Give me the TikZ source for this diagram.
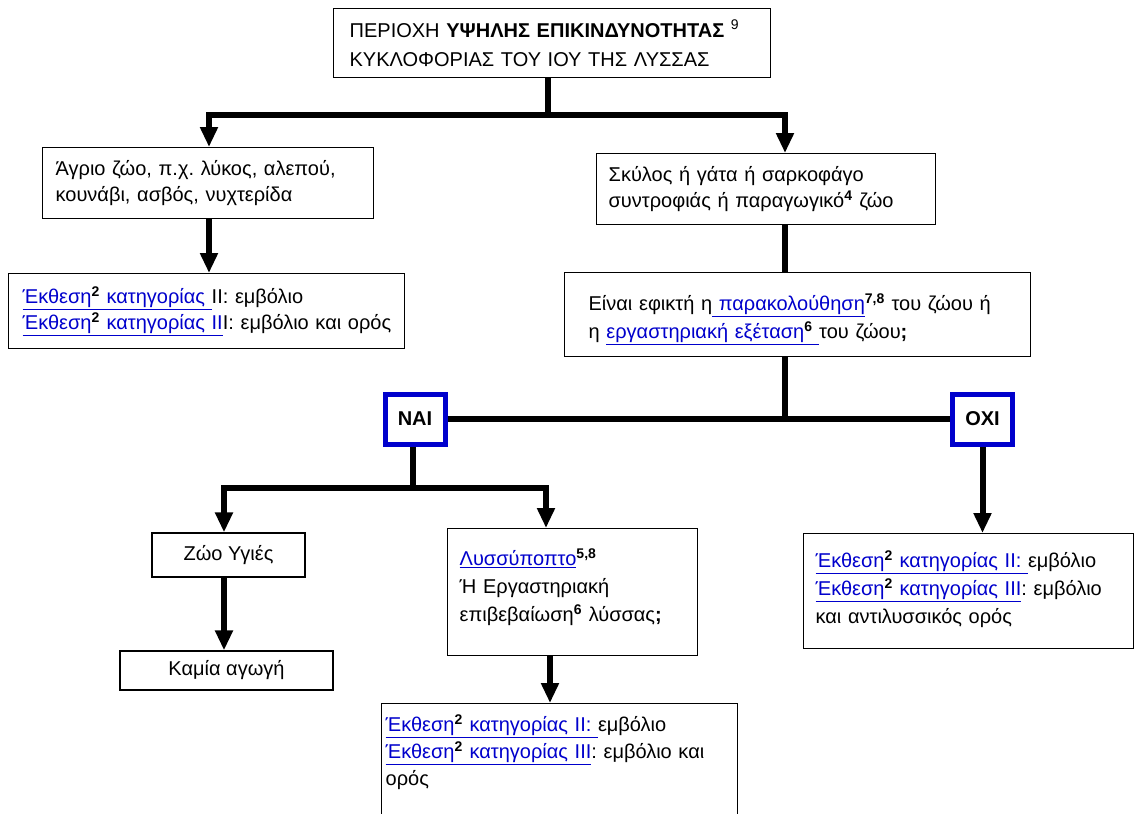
\documentclass[tikz,border=0pt]{standalone}
\usepackage{fontspec}
\setmainfont{Liberation Sans}
\usetikzlibrary{arrows.meta}
\definecolor{lblue}{RGB}{0,0,204}
\newcommand\lk[1]{\textcolor{lblue}{\underline{#1}}}
\newcommand\sps[1]{\textsuperscript{\textbf{\color{black}#1}}}
\frenchspacing
\begin{document}
\begin{tikzpicture}[x=1pt,y=-1pt,
  box/.style={draw, line width=1.3pt, align=left, anchor=north west, inner ysep=2pt,
    font=\fontsize{20}{26}\selectfont\frenchspacing},
  cbox/.style={draw, line width=1.3pt, align=center, inner sep=2pt,
    font=\fontsize{20}{26}\selectfont},
  yn/.style={draw=lblue, line width=5pt, inner sep=0pt, minimum width=60pt, minimum height=50pt,
    font=\fontsize{20}{24}\selectfont\bfseries},
  ln/.style={line width=6pt, line join=miter},
  arr/.style={ln, -{Triangle[width=17pt,length=20pt]}}]
\clip (0,0) rectangle (1136,814);
\fill[white] (0,0) rectangle (1136,814);

\node[box, font=\fontsize{20}{29}\selectfont, inner xsep=16pt, text width=405pt, minimum height=69pt] (top) at (333,8)
  {ΠΕΡΙΟΧΗ \textbf{ΥΨΗΛΗΣ ΕΠΙΚΙΝΔΥΝΟΤΗΤΑΣ} \textsuperscript{9}\\ΚΥΚΛΟΦΟΡΙΑΣ ΤΟΥ ΙΟΥ ΤΗΣ ΛΥΣΣΑΣ};

\node[box, inner xsep=13pt, text width=305pt, minimum height=71pt] (left1) at (42,147)
  {Άγριο ζώο, π.χ. λύκος, αλεπού,\\κουνάβι, ασβός, νυχτερίδα};

\node[box, inner xsep=14pt, text width=368pt, minimum height=75pt] (left2) at (8,273)
  {\mbox{\lk{Έκθεση\sps{2} κατηγορίας\ }II: εμβόλιο}\\\mbox{\lk{Έκθεση\sps{2} κατηγορίας II}I: εμβόλιο και ορός}};

\node[box, inner xsep=12pt, text width=315pt, minimum height=71pt] (right1) at (596,153)
  {Σκύλος ή γάτα ή σαρκοφάγο\\συντροφιάς ή παραγωγικό\sps{4} ζώο};

\node[box, font=\fontsize{20}{28}\selectfont, inner xsep=24pt, text width=418pt, minimum height=84pt] (right2) at (564,272)
  {\rule{0pt}{26pt}Είναι εφικτή η\lk{\ παρακολούθηση}\sps{7,8} του ζώου ή\\η \lk{εργαστηριακή εξέταση\sps{6}\ }του ζώου\textbf{;}};

\node[yn] (nai) at (415,419) {ΝΑΙ};
\node[yn] (oxi) at (982.5,419) {ΟΧΙ};

\node[cbox, minimum width=153pt, minimum height=44pt] (zoo) at (228.5,555) {Ζώο Υγιές};
\node[cbox, minimum width=213pt, minimum height=39pt] (kamia) at (226.5,670.5) {Καμία αγωγή};

\node[box, font=\fontsize{20}{28}\selectfont, inner xsep=12pt, text width=226pt, minimum height=127pt] (mid) at (447,528)
  {\lk{Λυσσύποπτο}\sps{5,8}\\Ή Εργαστηριακή\\επιβεβαίωση\sps{6} λύσσας\textbf{;}\rule[-14pt]{0pt}{0pt}};

\node[box, font=\fontsize{20}{27}\selectfont, inner xsep=4pt, inner ysep=11pt, text width=348pt] (bot) at (381,703)
  {\lk{Έκθεση\sps{2} κατηγορίας II:\ }εμβόλιο\\\lk{Έκθεση\sps{2} κατηγορίας III}: εμβόλιο και\\ορός\rule[-60pt]{0pt}{0pt}};

\node[box, font=\fontsize{20}{28}\selectfont, inner xsep=12pt, text width=306pt, minimum height=115pt] (res) at (803,533)
  {\lk{Έκθεση\sps{2} κατηγορίας II:\ }εμβόλιο\\\lk{Έκθεση\sps{2} κατηγορίας III}: εμβόλιο\\και αντιλυσσικός ορός\rule[-8pt]{0pt}{0pt}};

% connectors
\coordinate (t0) at (548,115);
\coordinate (hl) at (209,115);
\coordinate (hr) at (785,115);
\draw[ln] (top.south -| t0) -- (t0);
\draw[arr] (t0) -| (left1.north -| hl);
\draw[arr] (t0) -| (right1.north -| hr);
\draw[arr] (left1.south -| hl) -- (left2.north -| hl);
\draw[ln] (right1.south -| hr) -- (right2.north -| hr);
\draw[ln] (right2.south -| hr) -- (hr |- nai.east);
\draw[ln] (nai.east) -- (oxi.west);
\coordinate (y2) at (413,488);
\coordinate (zl) at (224,488);
\coordinate (zr) at (546,488);
\draw[ln] (nai.south -| y2) -- (y2);
\draw[arr] (y2) -| (zoo.north -| zl);
\draw[arr] (y2) -| (mid.north -| zr);
\draw[arr] (zoo.south -| zl) -- (kamia.north -| zl);
\coordinate (mx) at (550,0);
\draw[arr] (mid.south -| mx) -- (bot.north -| mx);
\draw[arr] (oxi.south) -- (oxi.south |- res.north);
\end{tikzpicture}
\end{document}
